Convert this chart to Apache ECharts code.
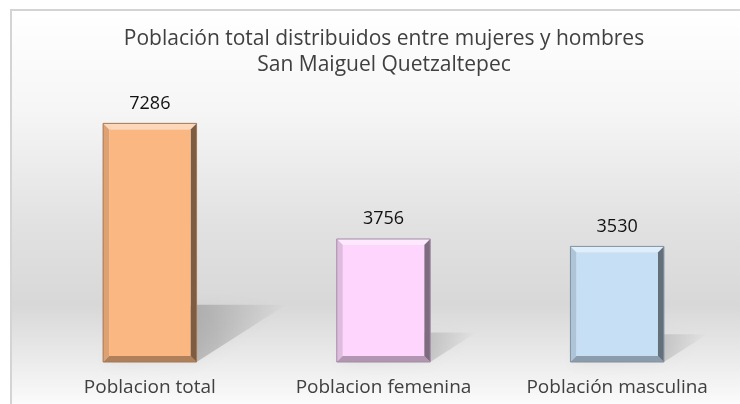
<!DOCTYPE html>
<html>
<head>
<meta charset="utf-8">
<script src="https://cdn.jsdelivr.net/npm/echarts@6/dist/echarts.min.js"></script>
<style>
  html, body { margin: 0; padding: 0; background: #fff; }
  #poblacionChart { width: 740px; height: 404px; }
</style>
</head>
<body>
<div id="poblacionChart"></div>
<script>
  // datos
  const categorias = ['Poblacion total', 'Poblacion femenina', 'Población masculina']
  const valores = [7286, 3756, 3530]
  const colores = ['#fbb782', '#fdd5fd', '#c6dff5']
  const titulo = 'Población total distribuidos entre mujeres y hombres\nSan Maiguel Quetzaltepec'

  function mezcla(hex, target, t) {
    const a = echarts.color.parse(hex)
    const b = echarts.color.parse(target)
    const c = [0, 1, 2].map(i => Math.round(a[i] + (b[i] - a[i]) * t))
    return 'rgb(' + c.join(',') + ')'
  }

  function renderBarra(params, api) {
    const idx = api.value(0)
    const val = api.value(1)
    const top = api.coord([idx, val])
    const base = api.coord([idx, 0])
    const w = api.size([1, 0])[0] * 0.4
    const x0 = top[0] - w / 2
    const x1 = top[0] + w / 2
    const y0 = top[1]
    const y1 = base[1]
    const h = y1 - y0
    const b = 6
    const col = colores[params.dataIndex]
    const dx = h * 0.375
    const dy = h * 0.24

    return {
      type: 'group',
      children: [
        {
          type: 'polygon',
          shape: { points: [[x0, y1], [x0 + dx, y1 - dy], [x1 + dx, y1 - dy], [x1, y1]] },
          style: {
            fill: new echarts.graphic.LinearGradient(0, 1, 1, 0, [
              { offset: 0, color: 'rgba(0,0,0,0.32)' },
              { offset: 0.6, color: 'rgba(0,0,0,0.16)' },
              { offset: 1, color: 'rgba(0,0,0,0)' },
            ]),
            shadowBlur: 16,
            shadowColor: 'rgba(0,0,0,0.2)',
          },
        },
        {
          type: 'polygon',
          shape: { points: [[x0, y0], [x1, y0], [x1 - b, y0 + b], [x0 + b, y0 + b]] },
          style: { fill: mezcla(col, '#ffffff', 0.45) },
        },
        {
          type: 'polygon',
          shape: { points: [[x0, y0], [x0 + b, y0 + b], [x0 + b, y1 - b], [x0, y1]] },
          style: { fill: mezcla(col, '#000000', 0.12) },
        },
        {
          type: 'polygon',
          shape: { points: [[x1, y0], [x1 - b, y0 + b], [x1 - b, y1 - b], [x1, y1]] },
          style: { fill: mezcla(col, '#000000', 0.5) },
        },
        {
          type: 'polygon',
          shape: { points: [[x0, y1], [x1, y1], [x1 - b, y1 - b], [x0 + b, y1 - b]] },
          style: { fill: mezcla(col, '#000000', 0.3) },
        },
        {
          type: 'rect',
          shape: { x: x0 + b, y: y0 + b, width: w - 2 * b, height: h - 2 * b },
          style: { fill: col },
        },
        {
          type: 'rect',
          shape: { x: x0, y: y0, width: w, height: h },
          style: { fill: 'none', stroke: mezcla(col, '#000000', 0.35), lineWidth: 1 },
        },
        {
          type: 'text',
          x: top[0],
          y: y0 - 11,
          style: {
            text: String(val),
            align: 'center',
            verticalAlign: 'bottom',
            textAlign: 'center',
            textVerticalAlign: 'bottom',
            fill: '#111',
            font: '18px "Open Sans"',
          },
        },
      ],
    }
  }

  const chart = echarts.init(document.getElementById('poblacionChart'))
  const option = {
    animation: false,
    graphic: [
      {
        type: 'rect',
        z: -10,
        shape: { x: 11, y: 10, width: 729, height: 394 },
        style: {
          fill: new echarts.graphic.LinearGradient(0, 0, 0, 1, [
            { offset: 0, color: '#ffffff' },
            { offset: 0.25, color: '#f6f6f6' },
            { offset: 0.55, color: '#e1e1e1' },
            { offset: 0.75, color: '#d8d8d8' },
            { offset: 0.89, color: '#ebebeb' },
            { offset: 1, color: '#fbfbfb' },
          ]),
        },
      },
      {
        type: 'polyline',
        z: -9,
        shape: { points: [[11, 404], [11, 10], [740, 10]] },
        style: { stroke: '#d4d4d4', lineWidth: 2, fill: 'none' },
      },
      {
        type: 'text',
        z: 5,
        x: 384,
        y: 26,
        style: {
          text: titulo,
          align: 'center',
          textAlign: 'center',
          verticalAlign: 'top',
          textVerticalAlign: 'top',
          font: '21px "Open Sans"',
          lineHeight: 26,
          fill: '#404040',
        },
      },
    ],
    grid: {
      left: 33,
      right: 6,
      top: 100,
      bottom: 42,
    },
    xAxis: {
      type: 'category',
      data: categorias,
      axisLine: { show: false },
      axisTick: { show: false },
      axisLabel: {
        interval: 0,
        hideOverlap: false,
        margin: 16,
        fontFamily: 'Open Sans',
        fontSize: 19,
        color: '#404040',
      },
    },
    yAxis: {
      type: 'value',
      min: 0,
      max: 8000,
      show: false,
      splitLine: { show: false },
    },
    series: [
      {
        type: 'custom',
        renderItem: renderBarra,
        encode: { x: 0, y: 1 },
        data: valores.map((v, i) => [i, v]),
      },
    ],
  }
  chart.setOption(option)
</script>
</body>
</html>
